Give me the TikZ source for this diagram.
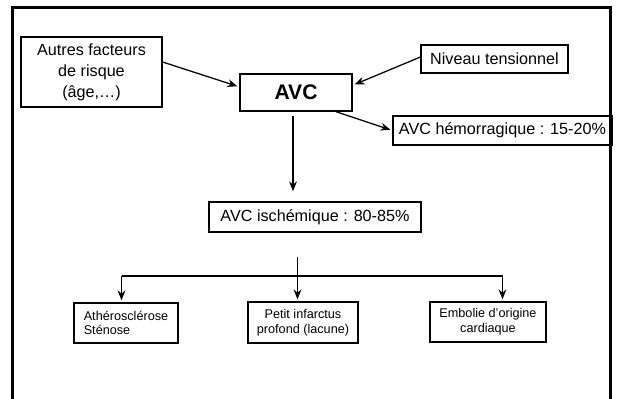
\documentclass[tikz,border=0pt]{standalone}
\usepackage{fontspec}
\setmainfont{Liberation Sans}
\usetikzlibrary{arrows.meta,calc}

\tikzset{
  box/.style={rectangle, draw, line width=0.9pt, inner sep=0pt, align=center,
    font=\fontsize{11.5}{15}\selectfont},
  smallbox/.style={box, font=\fontsize{9}{10.5}\selectfont},
  arr/.style={-{Stealth[length=7pt,width=5.5pt]}, line width=0.9pt, shorten >=1.5pt}
}

\begin{document}
\begin{tikzpicture}[x=0.025cm, y=-0.025cm]
      \useasboundingbox (0,0) rectangle (619,399);
      \draw [line width=1.5pt] (12.5,399) -- (12.5,7.5) -- (610.5,7.5) -- (610.5,399);
      \node [box, minimum width=3.52cm, minimum height=1.75cm] (risk) at (91.5, 72) {Autres facteurs\\de risque\\(âge,\dots)};
      \node [box, minimum width=2.8cm, minimum height=0.93cm, font=\fontsize{15}{18}\selectfont\bfseries] (avc) at (296, 92.5) {AVC};
      \node [box, minimum width=3.67cm, minimum height=0.7cm] (niveau) at (494.5, 59) {Niveau tensionnel};
      \node [box, minimum width=5.47cm, minimum height=0.73cm] (hemo) at (502.5, 130.5) {AVC hémorragique : 15-20\%};
      \node [box, minimum width=5.3cm, minimum height=0.75cm] (isch) at (315, 217) {AVC ischémique : 80-85\%};
      \node [smallbox, align=left, minimum width=2.6cm, minimum height=1cm] (athero) at (126, 323) {Athérosclérose\\Sténose};
      \node [smallbox, minimum width=2.75cm, minimum height=1.02cm] (petit) at (303, 322.5) {Petit infarctus\\profond (lacune)};
      \node [smallbox, minimum width=2.9cm, minimum height=1cm] (embol) at (488, 322) {Embolie d'origine\\cardiaque};
      \coordinate (split) at (297.5, 276);
      \coordinate (left) at (121.5, 276);
      \coordinate (right) at (502.5, 276);
      \draw [arr] ([yshift=0.25cm]risk.east) -- ([yshift=0.14cm]avc.west);
      \draw [arr] ([yshift=0.05cm]niveau.west) -- ([yshift=0.18cm]avc.east);
      \draw [arr] ([xshift=1cm]avc.south) -- (hemo.west);
      \draw [arr] ([xshift=-0.075cm, yshift=-0.1cm]avc.south) -- ([xshift=-0.075cm, yshift=0.2cm]avc.south |- isch.north);
      \draw [line width=0.9pt] ([yshift=-0.6cm]isch.south -| split) -- (split);
      \draw [arr] (split) -- (split |- petit.north);
      \draw [line width=0.9pt] (left) -- (right);
      \draw [arr] (left) -- (left |- athero.north);
      \draw [arr] (right) -- (right |- embol.north);
    \end{tikzpicture}
\end{document}
